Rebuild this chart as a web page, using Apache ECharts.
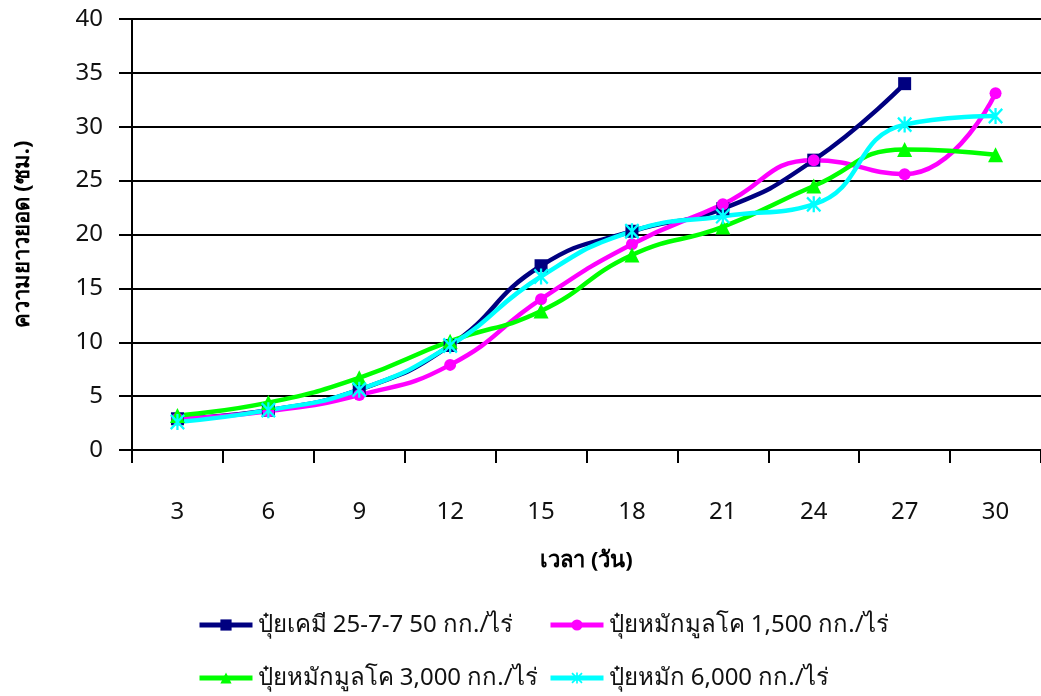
<!DOCTYPE html>
<html>
<head>
<meta charset="utf-8">
<script src="https://cdn.jsdelivr.net/npm/echarts@6/dist/echarts.min.js"></script>
<style>
html,body{margin:0;padding:0;background:#fff;}
#chart{width:1041px;height:696px;}
</style>
</head>
<body>
<div id="chart"></div>
<script>
var categories = ['3','6','9','12','15','18','21','24','27','30'];
var seriesNames = ['ปุ๋ยเคมี 25-7-7 50 กก./ไร่','ปุ๋ยหมักมูลโค 1,500 กก./ไร่','ปุ๋ยหมักมูลโค 3,000 กก./ไร่','ปุ๋ยหมัก 6,000 กก./ไร่'];
var chemical50 = [2.9, 3.7, 5.6, 9.7, 17.1, 20.3, 22.4, 26.9, 34.0, null];
var manure1500 = [2.9, 3.6, 5.1, 7.9, 14.0, 19.1, 22.8, 26.9, 25.6, 33.1];
var manure3000 = [3.2, 4.4, 6.7, 10.1, 12.9, 18.1, 20.7, 24.5, 27.9, 27.4];
var compost6000 = [2.6, 3.7, 5.6, 9.7, 16.1, 20.3, 21.7, 22.8, 30.2, 31.0];
var yTitle = 'ความยาวยอด (ซม.)';
var xTitle = 'เวลา (วัน)';

var FONT = '"Noto Sans", "DejaVu Sans", sans-serif';
var asterisk = 'path://M-1.2,-8L1.2,-8L1.2,8L-1.2,8Z M-6.2,-7.9L7.9,6.2L6.2,7.9L-7.9,-6.2Z M7.9,-6.2L-6.2,7.9L-7.9,6.2L6.2,-7.9Z';

var chart = echarts.init(document.getElementById('chart'));
function mk(name, data, color, symbol, size) {
  return {
    name: name, type: 'line', data: data, smooth: true,
    symbol: symbol, symbolSize: size, showSymbol: true,
    connectNulls: false,
    lineStyle: {color: color, width: 4.5},
    itemStyle: {color: color, borderColor: color, borderWidth: 0},
    emphasis: {disabled: true},
    animation: false
  };
}
var legendText = {fontFamily: FONT, fontSize: 24, color: '#111', lineHeight: 30};
var legendCommon = {top: 610, orient: 'vertical', itemGap: 23, itemWidth: 53, itemHeight: 14, padding: 0,
  lineStyle: {width: 5}, textStyle: legendText};
chart.setOption({
  backgroundColor: '#fff',
  animation: false,
  grid: {left: 132, top: 19, width: 913, bottom: 246, containLabel: false},
  legend: [
    Object.assign({left: 197, data: [seriesNames[0], seriesNames[2]]}, legendCommon),
    Object.assign({left: 548, data: [seriesNames[1], seriesNames[3]]}, legendCommon)
  ],
  xAxis: {
    type: 'category', data: categories, boundaryGap: true,
    name: xTitle, nameLocation: 'middle', nameGap: 100,
    nameTextStyle: {fontFamily: FONT, fontSize: 22, fontWeight: 'bold', color: '#000'},
    axisLine: {lineStyle: {color: '#000', width: 2}},
    axisTick: {show: true, length: 13, lineStyle: {color: '#000', width: 2}},
    axisLabel: {margin: 50, fontFamily: FONT, fontSize: 24, color: '#111'},
    splitLine: {show: false}
  },
  yAxis: {
    type: 'value', min: 0, max: 40, interval: 5,
    name: yTitle, nameLocation: 'middle', nameGap: 98, nameRotate: 90,
    nameTextStyle: {fontFamily: FONT, fontSize: 22, fontWeight: 'bold', color: '#000'},
    axisLine: {show: true, lineStyle: {color: '#000', width: 2}},
    axisTick: {show: true, length: 13, lineStyle: {color: '#000', width: 2}},
    axisLabel: {margin: 29, fontFamily: FONT, fontSize: 24, color: '#111'},
    splitLine: {show: true, lineStyle: {color: '#000', width: 2}}
  },
  series: [
    mk(seriesNames[0], chemical50, '#000080', 'rect', 13),
    mk(seriesNames[1], manure1500, '#FF00FF', 'circle', 12),
    mk(seriesNames[2], manure3000, '#00FF00', 'triangle', 15),
    mk(seriesNames[3], compost6000, '#00FFFF', asterisk, [15, 16])
  ]
});
</script>
</body>
</html>
